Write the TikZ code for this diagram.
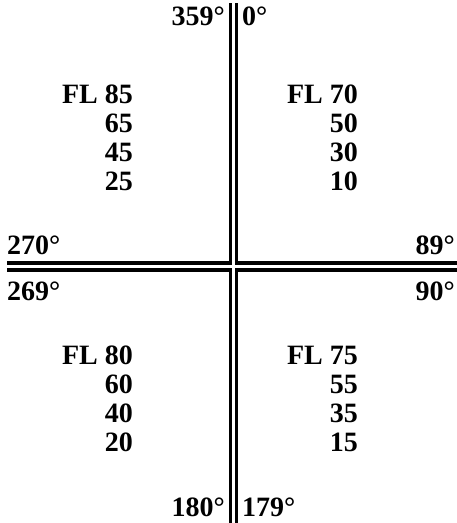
\documentclass[tikz,border=0pt]{standalone}
\usepackage{fontspec}
\setmainfont{Liberation Serif}
\usepackage{tikz}
\usetikzlibrary{positioning}

\begin{document}
\begin{tikzpicture}[x=1pt,y=-1pt,
  lbl/.style={inner sep=0pt,font=\fontsize{28}{33}\selectfont\bfseries},
  lft/.style={lbl,anchor=base east},
  rgt/.style={lbl,anchor=base west},
  rule/.style={line width=3.5pt,line cap=butt,line join=miter}
]
  \useasboundingbox (0,0) rectangle (457,523);
  % quadrant borders
  \draw[rule] (7,263) -| (230.5,3);
  \draw[rule] (457,263) -| (236.5,3);
  \draw[rule] (7,270) -| (230.5,523);
  \draw[rule] (457,270) -| (236.5,523);
  % headings on the axes
  \node[lft] (n359) at (225,25) {359°};
  \node[rgt] (n0) at (242,25) {0°};
  \node[rgt] (n270) at (7,254) {270°};
  \node[lft] (n89) at (455,254) {89°};
  \node[rgt] (n269) at (7,300) {269°};
  \node[lft] (n90) at (455,300) {90°};
  \node[lft] (n180) at (225,516) {180°};
  \node[rgt] (n179) at (242,516) {179°};
  % flight levels, top left
  \node[lft] (fl85) at (133,103) {FL 85};
  \node[lft] (fl65) at (133,132) {65};
  \node[lft] (fl45) at (133,161) {45};
  \node[lft] (fl25) at (133,190) {25};
  % top right
  \node[lft] (fl70) at (358,103) {FL 70};
  \node[lft] (fl50) at (358,132) {50};
  \node[lft] (fl30) at (358,161) {30};
  \node[lft] (fl10) at (358,190) {10};
  % bottom left
  \node[lft] (fl80) at (133,364) {FL 80};
  \node[lft] (fl60) at (133,393) {60};
  \node[lft] (fl40) at (133,422) {40};
  \node[lft] (fl20) at (133,451) {20};
  % bottom right
  \node[lft] (fl75) at (358,364) {FL 75};
  \node[lft] (fl55) at (358,393) {55};
  \node[lft] (fl35) at (358,422) {35};
  \node[lft] (fl15) at (358,451) {15};
\end{tikzpicture}
\end{document}
